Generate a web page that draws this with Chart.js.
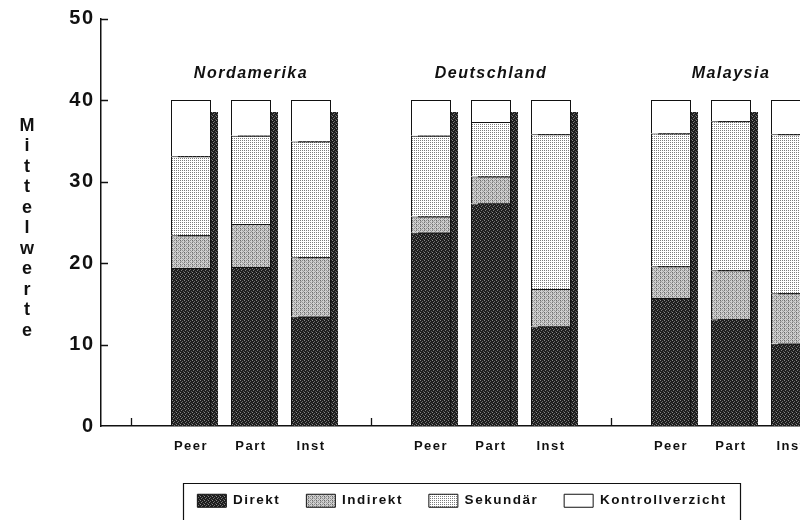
<!DOCTYPE html>
<html>
<head>
<meta charset="utf-8">
<script src="https://cdn.jsdelivr.net/npm/chart.js@4.4.1/dist/chart.umd.min.js"></script>
<style>
  html, body { margin: 0; padding: 0; background: #fff; overflow: hidden; }
  #wrap { width: 800px; height: 520px; overflow: hidden; }
</style>
</head>
<body>
<div id="wrap"><canvas id="chart" width="890" height="520"></canvas></div>
<script>
// Mittelwerte je Land und Rolle, gestapelt (Summe = 40)
const groups = ["Nordamerika", "Deutschland", "Malaysia"];
const roles = ["Peer", "Part", "Inst"];
const direkt = [19.4, 19.5, 13.4, 23.7, 27.3, 12.2, 15.7, 13.1, 10.1];
const indirekt = [4.0, 5.3, 7.3, 2.0, 3.3, 4.6, 3.9, 6.0, 6.2];
const sekundaer = [9.7, 10.8, 14.2, 9.9, 6.7, 19.0, 16.3, 18.3, 19.5];
const kontrollverzicht = [6.9, 4.4, 5.1, 4.4, 2.7, 4.2, 4.1, 2.6, 4.2];
const yTicks = [0, 10, 20, 30, 40, 50];
const yTitle = "Mittelwerte";

// category slots: empty slot between groups carries the small tick mark
const labels = [""];
groups.forEach(() => { labels.push(...roles, ""); });

function slots(values) {
  const out = [null];
  groups.forEach((g, gi) => {
    roles.forEach((r, ri) => out.push(values[gi * roles.length + ri]));
    out.push(null);
  });
  return out;
}

function makePattern(size, base, dots) {
  const c = document.createElement("canvas");
  c.width = size;
  c.height = size;
  const x = c.getContext("2d");
  x.fillStyle = base;
  x.fillRect(0, 0, size, size);
  dots.forEach(d => {
    x.fillStyle = d[2];
    x.fillRect(d[0], d[1], 1, 1);
  });
  return x.createPattern(c, "repeat");
}

const darkFill = makePattern(4, "#1e1e1e", [[0, 0, "#8a8a8a"], [2, 1, "#6a6a6a"], [1, 2, "#7a7a7a"], [3, 3, "#5a5a5a"]]);
const midFill = makePattern(4, "#cfcfcf", [[0, 0, "#6a6a6a"], [2, 0, "#888"], [0, 2, "#777"], [2, 2, "#959595"], [1, 1, "#a5a5a5"], [3, 3, "#9a9a9a"], [0, 1, "#aaa"]]);
const lightFill = makePattern(2, "#ffffff", [[0, 0, "#7c7c7c"]]);

const spacing = "1.5px";
const fontFamily = "'Liberation Sans', Arial, sans-serif";

// bar shadow on the right, drawn behind the stacks
const shadowPlugin = {
  id: "shadow",
  beforeDatasetsDraw(chart) {
    const ctx = chart.ctx;
    const top = chart.getDatasetMeta(chart.data.datasets.length - 1);
    const bottom = chart.getDatasetMeta(0);
    ctx.save();
    ctx.fillStyle = darkFill;
    top.data.forEach((bar, i) => {
      if (chart.data.datasets[0].data[i] == null) return;
      const p = bar.getProps(["x", "y", "width"], true);
      const base = bottom.data[i].getProps(["base"], true).base;
      ctx.fillRect(p.x - p.width / 2 + 7, p.y + 12, p.width, base - p.y - 12);
    });
    ctx.restore();
  }
};

// inward tick marks, group titles, vertical axis title, legend frame
const decorPlugin = {
  id: "decor",
  beforeUpdate(chart) { chart.ctx.letterSpacing = spacing; },
  beforeDraw(chart) { chart.ctx.letterSpacing = spacing; },
  afterDraw(chart) {
    const ctx = chart.ctx;
    const xs = chart.scales.x;
    const ys = chart.scales.y;
    const area = chart.chartArea;
    ctx.save();
    ctx.strokeStyle = "#111";
    ctx.lineWidth = 1.3;
    ctx.beginPath();
    yTicks.forEach(v => {
      if (v === 0) return;
      const py = Math.round(ys.getPixelForValue(v)) + 0.5;
      ctx.moveTo(area.left, py);
      ctx.lineTo(area.left + 7, py);
    });
    labels.forEach((l, i) => {
      if (l !== "") return;
      const px = Math.round(xs.getPixelForValue(i)) + 0.5;
      ctx.moveTo(px, area.bottom);
      ctx.lineTo(px, area.bottom - 8);
    });
    ctx.stroke();

    ctx.fillStyle = "#111";
    ctx.textAlign = "center";
    ctx.textBaseline = "middle";
    ctx.letterSpacing = "1.5px";
    ctx.font = "italic bold 16px " + fontFamily;
    groups.forEach((g, gi) => {
      const mid = gi * (roles.length + 1) + 2;
      ctx.fillText(g, xs.getPixelForValue(mid), ys.getPixelForValue(43.2));
    });

    ctx.letterSpacing = "0px";
    ctx.font = "bold 18px " + fontFamily;
    yTitle.split("").forEach((ch, k) => {
      ctx.fillText(ch, 27, 126 + k * 20.5);
    });

    // frame round the legend; its lower edge runs off the bottom of the picture
    const boxes = chart.legend.legendHitBoxes;
    if (boxes && boxes.length) {
      const first = boxes[0];
      const last = boxes[boxes.length - 1];
      const left = Math.round(first.left - 14) + 0.5;
      const right = Math.round(last.left + last.width + 13) + 0.5;
      const t = Math.round(first.top - 11) + 0.5;
      ctx.lineWidth = 1.2;
      ctx.beginPath();
      ctx.moveTo(left, chart.height + 5);
      ctx.lineTo(left, t);
      ctx.lineTo(right, t);
      ctx.lineTo(right, chart.height + 5);
      ctx.stroke();
    }
    ctx.restore();
  }
};

const stackDefaults = {
  borderColor: "#111",
  borderWidth: 1,
  barPercentage: 0.667,
  categoryPercentage: 1.0
};

new Chart("chart", {
  type: "bar",
  data: {
    labels: labels,
    datasets: [
      Object.assign({ label: "Direkt", data: slots(direkt), backgroundColor: darkFill }, stackDefaults),
      Object.assign({ label: "Indirekt", data: slots(indirekt), backgroundColor: midFill }, stackDefaults),
      Object.assign({ label: "Sekundär", data: slots(sekundaer), backgroundColor: lightFill }, stackDefaults),
      Object.assign({ label: "Kontrollverzicht", data: slots(kontrollverzicht), backgroundColor: "#ffffff" }, stackDefaults),
    ],
  },
  options: {
    responsive: false,
    animation: false,
    layout: {
      padding: { left: 43, right: 9, top: 17, bottom: 2.5 },
    },
    plugins: {
      legend: {
        display: true,
        position: "bottom",
        labels: {
          boxWidth: 29,
          boxHeight: 13,
          padding: 26,
          color: "#111",
          font: { size: 13.5, weight: "bold", family: fontFamily },
        },
      },
      tooltip: { enabled: false },
    },
    scales: {
      x: {
        stacked: true,
        grid: { display: false },
        border: { display: true, color: "#111", width: 1.5 },
        ticks: {
          autoSkip: false,
          maxRotation: 0,
          padding: 5,
          color: "#111",
          font: { size: 13, weight: "bold", family: fontFamily },
        },
        afterFit(scale) { scale.height = 42; },
      },
      y: {
        stacked: true,
        min: 0,
        max: 50,
        grid: { display: false, drawTicks: false },
        border: { display: true, color: "#111", width: 1.5 },
        ticks: {
          stepSize: 10,
          padding: 6.5,
          color: "#111",
          font: { size: 20, weight: "bold", family: fontFamily },
        },
        afterFit(scale) { scale.width = 58; },
      },
    },
  },
  plugins: [shadowPlugin, decorPlugin],
});
</script>
</body>
</html>
